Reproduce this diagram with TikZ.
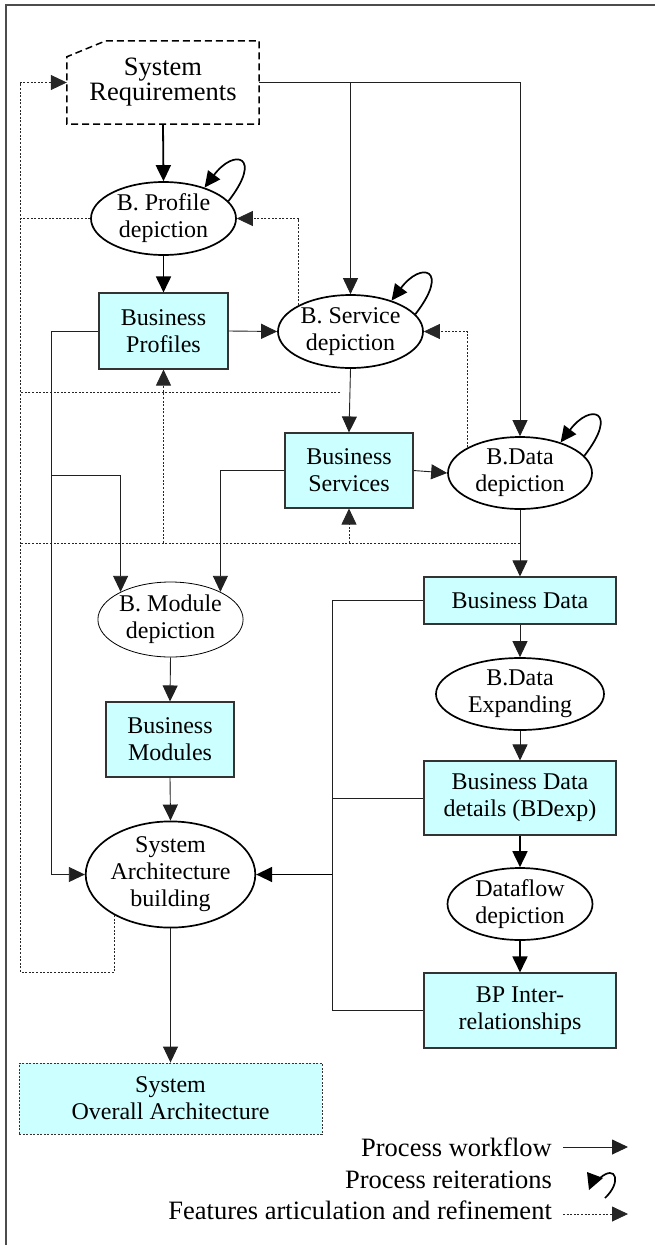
\documentclass[tikz,border=0pt]{standalone}
\usepackage{fontspec}
\setmainfont{Liberation Serif}
\usetikzlibrary{arrows.meta,calc,shapes.geometric}
\definecolor{boxcyan}{HTML}{CCFFFF}
\begin{document}
\begin{tikzpicture}[x=1pt,y=-1pt,
  txt/.style={font=\fontsize{24}{27}\selectfont, align=center, inner sep=0pt},
  ell/.style={txt, ellipse, draw=black, line width=1.7pt, fill=white},
  ellthin/.style={txt, ellipse, draw=black, line width=0.8pt, fill=white},
  bbox/.style={txt, rectangle, draw=gray!40!black, line width=1.1pt, fill=boxcyan},
  tip/.style={-{Triangle[length=16pt,width=15pt]}},
  flow/.style={tip, draw=gray!25!black, line width=0.9pt},
  flowthick/.style={tip, draw=black, line width=1.8pt},
  plain/.style={draw=gray!25!black, line width=0.9pt},
  feat/.style={draw=gray!30!black, line width=0.8pt, dash pattern=on 2pt off 1.6pt},
  featarrow/.style={feat, tip},
  loopst/.style={draw=black, line width=1.7pt, -{Triangle[length=16pt,width=15pt]}},
  legend/.style={font=\fontsize{26.5}{28}\selectfont, inner sep=0pt}
]
\useasboundingbox (0,0) rectangle (654,1245);
% frame
\draw[line width=2pt, gray!60!black] (6,1260) -- (6,5) -- (670,5);

% nodes
\node[txt, font=\fontsize{26.5}{25}\selectfont, minimum width=192pt, minimum height=83pt] (sr) at (163,82.5) {System\\Requirements};
\draw[black, line width=1.5pt, dash pattern=on 7pt off 4pt]
  ($(sr.north west)+(39,0)$) -- (sr.north east) -- (sr.south east) -- (sr.south west) -- ($(sr.north west)+(0,16)$) -- cycle;

\node[ell, minimum width=145pt, minimum height=73pt] (bp) at (163.5,218.5) {B. Profile\\depiction};
\node[bbox, minimum width=129pt, minimum height=76pt] (bpr) at (163.5,331) {Business\\Profiles};
\node[ell, minimum width=145pt, minimum height=73pt] (bs) at (350.5,331.5) {B. Service\\depiction};
\node[bbox, minimum width=128pt, minimum height=75pt] (bsv) at (349,470.5) {Business\\Services};
\node[ell, minimum width=144pt, minimum height=72pt] (bd) at (520,473) {B.Data\\depiction};
\node[bbox, minimum width=192pt, minimum height=47pt] (bdata) at (520,600.5) {Business Data};
\node[ell, minimum width=168pt, minimum height=72pt] (bde) at (520,694) {B.Data\\Expanding};
\node[bbox, minimum width=192pt, minimum height=74pt] (bdd) at (520,798) {Business Data\\details (BDexp)};
\node[ell, minimum width=145pt, minimum height=72pt] (df) at (520,904) {Dataflow\\depiction};
\node[bbox, minimum width=192pt, minimum height=75pt] (bpi) at (520,1010.5) {BP Inter-\\relationships};
\node[ellthin, minimum width=143pt, minimum height=75pt] (bm) at (170.5,619.5) {B. Module\\depiction};
\node[bbox, minimum width=128pt, minimum height=75pt] (bmod) at (170,739.5) {Business\\Modules};
\node[ell, minimum width=141pt, minimum height=101pt] (sa) at (170.5,874.5) {System\\Architecture\\building};
\node[bbox, draw=gray!40!black, line width=0.9pt, dash pattern=on 2pt off 1.5pt, minimum width=303pt, minimum height=71pt] (soa) at (170.5,1098.5) {System\\Overall Architecture};

% coordinates
\coordinate (fl) at (20,972);
\coordinate (fb) at (20,543);
\coordinate (fr) at (520,543);
\coordinate (fm1) at (340,392);
\coordinate (fm2) at (20,392);
\coordinate (lj) at (52,475);
\coordinate (rj) at (332,874.5);

% feature lines (dotted)
\draw[featarrow] (sa.216) |- (fl) |- (sr.west);
\draw[feat] (bp.west) -- (bp.west -| fl);
\draw[feat] (fm1) -- (fm2);
\draw[feat] (fr) -- (fb);
\draw[featarrow] (bsv.south |- fb) -- (bsv.south);
\draw[featarrow] (bpr.south |- fb) -- (bpr.south);
\draw[featarrow] (bs.153) |- (bp.east);
\draw[featarrow] (bd.154) |- (bs.east);

% main workflow
\draw[flowthick] (sr.south) -- (bp.north);
\draw[flowthick] (bp.south) -- (bpr.north);
\draw[flow] (sr.east) -| (bd.north);
\draw[flow] (sr.east -| bs.north) -- (bs.north);
\draw[flow] (bpr.east) -- (bs.west);
\draw[flow] (bs.south) -- (bsv.north);
\draw[flow] (bsv.east) -- (bd.west);
\draw[flow] (bd.south) -- (bdata.north);
\draw[flow] (bdata.south) -- (bde.north);
\draw[flow] (bde.south) -- (bdd.north);
\draw[flowthick] (bdd.south) -- (df.north);
\draw[flowthick] (df.south) -- (bpi.north);
\draw[flow] (bm.south) -- (bmod.north);
\draw[flow] (bmod.south) -- (sa.north);
\draw[flow] (sa.south) -- (soa.north);

% left connections
\draw[flow] (bpr.west) -- ++(-47,0) |- (sa.west);
\draw[flow] (lj) -| (bm.151);
\draw[flow] (bsv.west) -| (bm.29);
\draw[plain] (bsv.west) -- ++(-22,0) -- ($(bsv.west)+(-22,0)$ |- rj);
% right connections
\draw[plain] (bdata.west) -| (rj);
\draw[plain] (bdd.west) -- (bdd.west -| rj);
\draw[plain] (rj) |- (bpi.west);
\draw[flow, line width=1.5pt, draw=black] (rj) -- (sa.east);

% self loops
\draw[loopst] (bp.15) .. controls +(35,-45) and +(30,-40) .. (bp.37);
\draw[loopst] (bs.15) .. controls +(35,-45) and +(30,-40) .. (bs.37);
\draw[loopst] (bd.15) .. controls +(35,-45) and +(30,-40) .. (bd.37);

% legend
\node[legend, anchor=base east] (l1) at (552,1156) {Process workflow};
\node[legend, anchor=base east] (l2) at (552,1188) {Process reiterations};
\node[legend, anchor=base east] (l3) at (552,1219) {Features articulation and refinement};
\draw[flow] (563,1147) -- (628,1147);
\draw[black, line width=1.7pt] (605,1198) .. controls (622,1182) and (616,1164) .. (600,1178);
\fill[black] (587,1172) -- (589,1190) -- (603,1178) -- cycle;
\draw[featarrow] (563,1214) -- (628,1214);
\end{tikzpicture}
\end{document}
